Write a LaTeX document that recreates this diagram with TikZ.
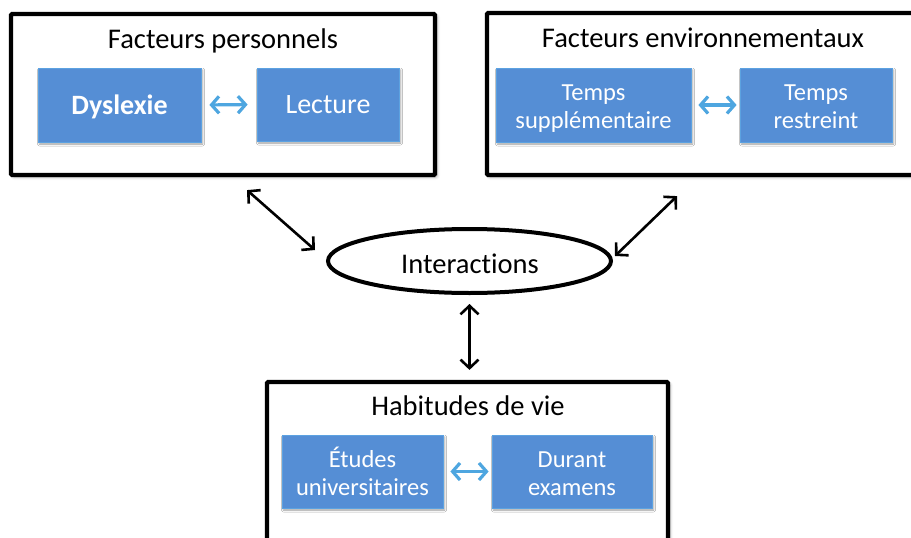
\documentclass[tikz,border=0pt]{standalone}
\usepackage{fontspec}
\setmainfont{Carlito}[Ligatures={NoCommon}]
\usetikzlibrary{arrows.meta,shapes.geometric,shadows.blur,calc}

\definecolor{boxblue}{RGB}{85,142,213}
\definecolor{boxedge}{RGB}{92,162,225}
\definecolor{linkblue}{RGB}{78,166,224}

\tikzset{
  frame/.style={draw=black, line width=4.2pt, fill=white, rounded corners=1pt,
    blur shadow={shadow xshift=2pt, shadow yshift=-2pt, shadow blur radius=3pt, shadow opacity=35},
    inner sep=0pt},
  heading/.style={font=\fontsize{28.5}{30}\selectfont, text=black, inner sep=0pt, anchor=base},
  bluebox/.style={fill=boxblue, draw=boxedge, line width=0.8pt, inner sep=0pt,
    text=white, align=center, text height=18pt, text depth=0pt,
    font=\fontsize{28}{30}\selectfont,
    blur shadow={shadow xshift=1.5pt, shadow yshift=-2pt, shadow blur radius=2pt, shadow opacity=40}},
  boxline/.style={text=white, inner sep=0pt, anchor=base, font=\fontsize{24.5}{28}\selectfont},
  oval/.style={ellipse, draw=black, line width=4pt, fill=white, inner sep=0pt},
  ovaltext/.style={font=\fontsize{28.5}{30}\selectfont, inner sep=0pt, anchor=base},
  bluelink/.style={draw=linkblue, line width=3.2pt,
    {Straight Barb[length=7.5pt,width=17pt]}-{Straight Barb[length=7.5pt,width=17pt]}},
  blacklink/.style={draw=black, line width=2.6pt,
    {Straight Barb[length=8.5pt,width=18pt]}-{Straight Barb[length=8.5pt,width=18pt]}},
}

\begin{document}
\begin{tikzpicture}[x=1pt, y=-1pt]
  \useasboundingbox (0,0) rectangle (911,538);
  \clip (0,0) rectangle (911,538);

  % three framed groups
  \node[frame, minimum width=424pt, minimum height=161pt] (fp) at (223,94.5) {};
  \node[frame, minimum width=428pt, minimum height=162pt] (fe) at (701,94) {};
  \node[frame, minimum width=401pt, minimum height=163pt] (hv) at (467.5,463.5) {};

  % group headings
  \node[heading] (tfp) at (223,48) {Facteurs personnels};
  \node[heading] (tfe) at (703,47) {Facteurs environnementaux};
  \node[heading] (thv) at (468,415) {Habitudes de vie};

  % blue boxes with one line of text
  \node[bluebox, minimum width=163pt, minimum height=74pt] (dys) at (119.5,105) {\bfseries Dyslexie};
  \node[bluebox, minimum width=142pt, minimum height=73pt] (lec) at (328,104.5) {Lecture};

  % blue boxes with two lines of text
  \node[bluebox, minimum width=195pt, minimum height=74pt] (tsup) at (593.5,105) {};
  \node[bluebox, minimum width=152pt, minimum height=74pt] (tres) at (816,105) {};
  \node[bluebox, minimum width=161pt, minimum height=73pt] (etu) at (362.5,471.5) {};
  \node[bluebox, minimum width=160pt, minimum height=73pt] (dur) at (572,471.5) {};

  \node[boxline] (tsup1) at ($(tsup.center)+(0,-5)$) {Temps};
  \node[boxline] (tsup2) at ($(tsup.center)+(0,23)$) {suppl\'ementaire};
  \node[boxline] (tres1) at ($(tres.center)+(0,-5)$) {Temps};
  \node[boxline] (tres2) at ($(tres.center)+(0,23)$) {restreint};
  \node[boxline] (etu1) at ($(etu.center)+(0,-4.5)$) {\'Etudes};
  \node[boxline] (etu2) at ($(etu.center)+(0,23.5)$) {universitaires};
  \node[boxline] (dur1) at ($(dur.center)+(0,-4.5)$) {Durant};
  \node[boxline] (dur2) at ($(dur.center)+(0,23.5)$) {examens};

  % central ellipse
  \node[oval, minimum width=283pt, minimum height=64pt] (inter) at (469.5,261) {};
  \node[ovaltext] (tint) at (470,273) {Interactions};

  % links inside the groups
  \draw[bluelink, shorten <=8pt, shorten >=9pt] (dys.east) -- (lec.west);
  \draw[bluelink, shorten <=7pt, shorten >=3pt] (tsup.east) -- (tres.west);
  \draw[bluelink, shorten <=7pt, shorten >=3pt] (etu.east) -- (dur.west);

  % links to the ellipse
  \draw[blacklink] ($(fp.south)+(24,13)$) -- ($(inter.west)+(-11,-11)$);
  \draw[blacklink] ($(fe.south)+(-24,19)$) -- ($(inter.east)+(2,-5)$);
  \draw[blacklink, shorten <=9pt, shorten >=10pt] (inter.south) -- (inter.south |- hv.north);
\end{tikzpicture}
\end{document}
